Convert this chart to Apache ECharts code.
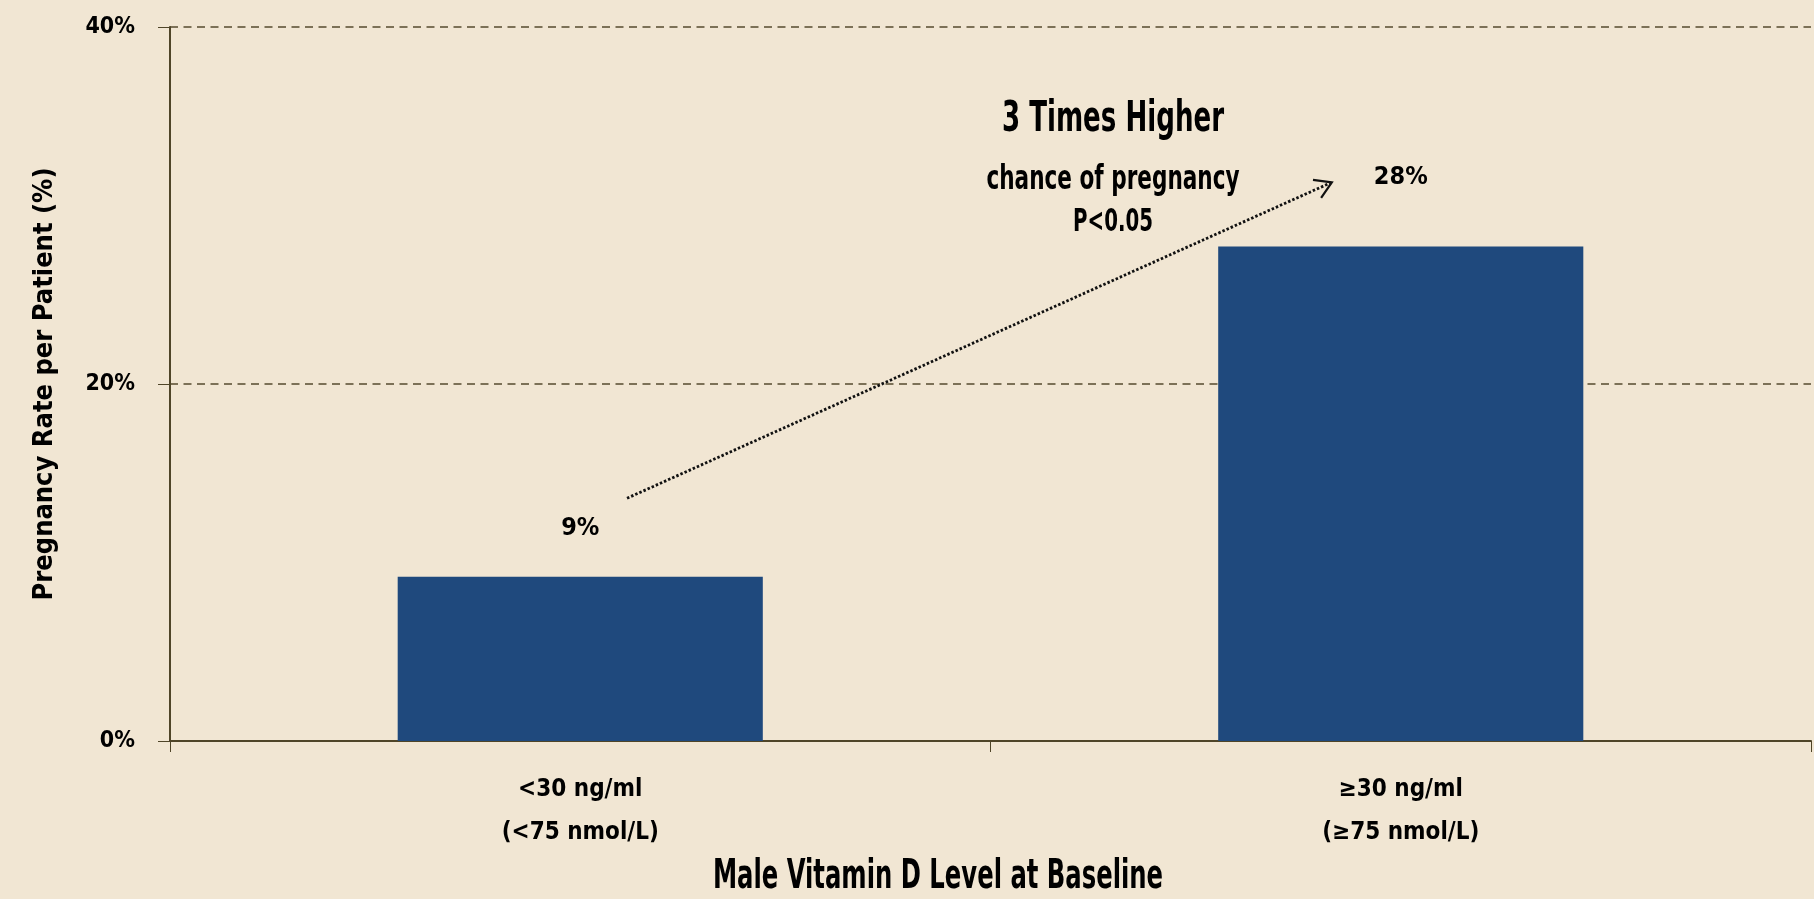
<!DOCTYPE html>
<html>
<head>
<meta charset="utf-8">
<script src="https://cdn.jsdelivr.net/npm/echarts@6/dist/echarts.min.js"></script>
<style>
  html, body { margin: 0; padding: 0; background: #F1E6D3; }
  #echart { width: 1814px; height: 899px; }
</style>
</head>
<body>
<div id="echart"></div>
<script>
// data
const categories = ['<30 ng/ml\n(<75 nmol/L)', '≥30 ng/ml\n(≥75 nmol/L)'];
const pregnancyRate = [9.2, 27.7];
const rateLabels = ['9%', '28%'];
const yMin = 0, yMax = 40, yStep = 20;

// label gaps above each bar (px)
const labelGaps = [36, 57];

const FONT = "'Liberation Sans Narrow', 'DejaVu Sans Condensed', sans-serif";
const AXIS_COLOR = '#4F4528';
const BAR_COLOR = '#1F497D';

const chart = echarts.init(document.getElementById('echart'));

const option = {
  backgroundColor: '#F1E6D3',
  animation: false,
  grid: { left: 170, right: 3, top: 27, bottom: 158, containLabel: false },
  xAxis: {
    type: 'category',
    data: categories,
    boundaryGap: true,
    axisLine: { show: true, lineStyle: { color: AXIS_COLOR, width: 2 } },
    axisTick: { show: true, length: 11, alignWithLabel: false, interval: 0,
      lineStyle: { color: AXIS_COLOR, width: 1 } },
    axisLabel: {
      interval: 0,
      margin: 27,
      color: '#000',
      fontFamily: FONT,
      fontWeight: 'bold',
      fontSize: 24,
      lineHeight: 43
    },
    splitLine: { show: false }
  },
  yAxis: {
    type: 'value',
    min: yMin,
    max: yMax,
    interval: yStep,
    name: 'Pregnancy Rate per Patient (%)',
    nameLocation: 'middle',
    nameGap: 112,
    nameTextStyle: { color: '#000', fontFamily: FONT, fontWeight: 'bold', fontSize: 27 },
    axisLine: { show: true, lineStyle: { color: AXIS_COLOR, width: 2 } },
    axisTick: { show: true, length: 12, inside: false, lineStyle: { color: AXIS_COLOR, width: 1 } },
    axisLabel: {
      margin: 35,
      color: '#000',
      fontFamily: FONT,
      fontWeight: 'bold',
      fontSize: 23,
      formatter: function (v) { return v + '%'; }
    },
    splitLine: {
      show: true,
      showMinLine: false,
      lineStyle: { color: '#554B2F', width: 1.5, type: [8, 5.5] }
    }
  },
  series: [{
    type: 'bar',
    barWidth: '44.5%',
    itemStyle: { color: BAR_COLOR },
    label: {
      show: true,
      position: 'top',
      color: '#000',
      fontFamily: FONT,
      fontWeight: 'bold',
      fontSize: 25,
      formatter: function (p) { return rateLabels[p.dataIndex]; }
    },
    data: pregnancyRate.map(function (v, i) {
      return { value: v, label: { distance: labelGaps[i] } };
    })
  }]
};

chart.setOption(option);

// annotation arrow, given as (category position, percent)
const arrowFrom = [0.057, 13.6];
const arrowTo = [0.916, 31.3];

function toPixel(pt) {
  const c0 = chart.convertToPixel({ xAxisIndex: 0 }, categories[0]);
  const c1 = chart.convertToPixel({ xAxisIndex: 0 }, categories[1]);
  const y = chart.convertToPixel({ yAxisIndex: 0 }, pt[1]);
  return [c0 + pt[0] * (c1 - c0), y];
}

const a = toPixel(arrowFrom);
const b = toPixel(arrowTo);
const ang = Math.atan2(b[1] - a[1], b[0] - a[0]);
const headLen = 19, headSpread = 0.55;
const h1 = [b[0] - headLen * Math.cos(ang - headSpread), b[1] - headLen * Math.sin(ang - headSpread)];
const h2 = [b[0] - headLen * Math.cos(ang + headSpread), b[1] - headLen * Math.sin(ang + headSpread)];

// the source font is a tall condensed face, so stretch text vertically
function annoText(txt, x, y, size, stretch) {
  return {
    type: 'text',
    x: x, y: y,
    scaleY: stretch,
    style: {
      text: txt,
      fill: '#000',
      font: 'bold ' + size + 'px ' + FONT,
      textAlign: 'center',
      textVerticalAlign: 'middle'
    }
  };
}

chart.setOption({
  graphic: [
    {
      type: 'polyline',
      shape: { points: [a, b] },
      style: { stroke: '#111', lineWidth: 2.8, lineDash: [2.5, 2], fill: null }
    },
    {
      type: 'polyline',
      shape: { points: [h1, b, h2] },
      style: { stroke: '#111', lineWidth: 2.2, fill: null }
    },
    annoText('3 Times Higher', 1113, 120, 29, 1.45),
    annoText('chance of pregnancy', 1113, 180, 24, 1.4),
    annoText('P<0.05', 1113, 223, 22, 1.45),
    annoText('Male Vitamin D Level at Baseline', 938, 877, 27, 1.5)
  ]
});
</script>
</body>
</html>
